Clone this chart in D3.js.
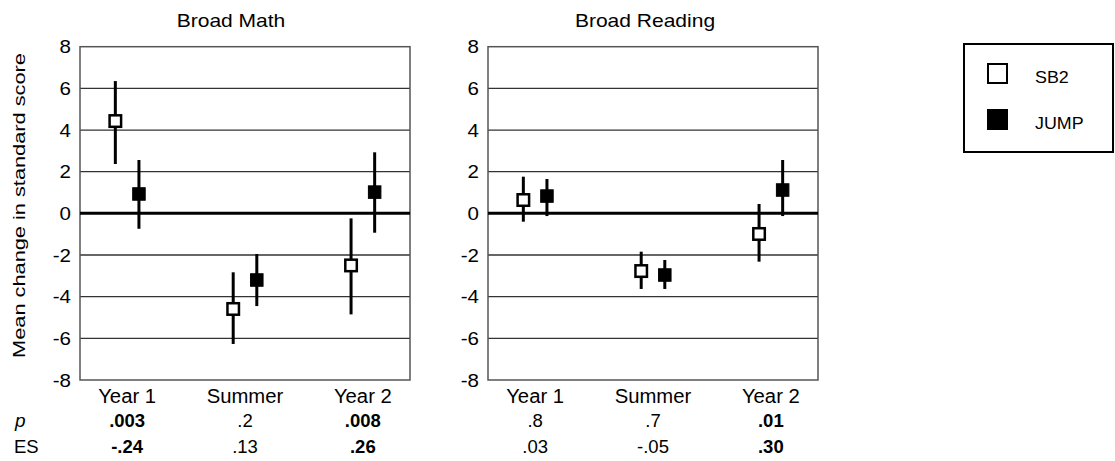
<!DOCTYPE html>
<html>
<head>
<meta charset="utf-8">
<script src="https://cdn.jsdelivr.net/npm/d3@7"></script>
<style>
  body { margin: 0; background: #fff; }
  text { font-family: "Liberation Sans", Arial, sans-serif; fill: #000; }
</style>
</head>
<body>
<svg id="chart" width="1115" height="461"></svg>
<script>
// Mean change in standard score, with error bars (low/high)
const categories = ["Year 1", "Summer", "Year 2"];
const groups = ["SB2", "JUMP"];
const yTicks = [-8, -6, -4, -2, 0, 2, 4, 6, 8];

const mathSB2Mean = [4.43, -4.59, -2.50];
const mathSB2Low  = [2.37, -6.27, -4.85];
const mathSB2High = [6.35, -2.83, -0.24];
const mathJumpMean = [0.93, -3.20, 1.02];
const mathJumpLow  = [-0.74, -4.45, -0.93];
const mathJumpHigh = [2.56, -1.95, 2.93];

const readSB2Mean = [0.64, -2.77, -0.99];
const readSB2Low  = [-0.40, -3.63, -2.32];
const readSB2High = [1.76, -1.84, 0.45];
const readJumpMean = [0.83, -2.96, 1.12];
const readJumpLow  = [-0.13, -3.63, -0.13];
const readJumpHigh = [1.65, -2.24, 2.56];

const mathP = [".003", ".2", ".008"];
const mathPBold = [true, false, true];
const mathES = ["-.24", ".13", ".26"];
const mathESBold = [true, false, true];
const readP = [".8", ".7", ".01"];
const readPBold = [false, false, true];
const readES = [".03", "-.05", ".30"];
const readESBold = [false, false, true];

const svg = d3.select("#chart");

// stretch text horizontally a bit, the original type is wide
function stretch(sel, k) {
  sel.each(function() {
    const len = this.getComputedTextLength();
    d3.select(this).attr("textLength", len * k).attr("lengthAdjust", "spacingAndGlyphs");
  });
}

const plotTop = 46.7, plotBottom = 380;
const y = d3.scaleLinear().domain([-8, 8]).range([plotBottom, plotTop]);
const offset = d3.scalePoint().domain(groups).range([-11.8, 11.8]);

function buildSeries(means, lows, highs) {
  return categories.map((c, i) => ({cat: c, mean: means[i], lo: lows[i], hi: highs[i]}));
}

function drawPanel(left, right, title, titleShift, series, pVals, pBold, esVals, esBold) {
  const x = d3.scalePoint().domain(categories).range([left, right]).padding(0.4);
  const g = svg.append("g");

  // gridlines
  g.append("g")
    .selectAll("line")
    .data(yTicks.filter(d => d !== 0 && d !== 8 && d !== -8))
    .join("line")
    .attr("x1", left).attr("x2", right)
    .attr("y1", d => y(d)).attr("y2", d => y(d))
    .attr("stroke", "#333").attr("stroke-width", 1.3);

  // frame
  g.append("rect")
    .attr("x", left).attr("y", plotTop)
    .attr("width", right - left).attr("height", plotBottom - plotTop)
    .attr("fill", "none").attr("stroke", "#555").attr("stroke-width", 1.5);

  // zero line
  g.append("line")
    .attr("x1", left).attr("x2", right)
    .attr("y1", y(0)).attr("y2", y(0))
    .attr("stroke", "#000").attr("stroke-width", 3);

  // y axis labels (plain hyphen for negatives)
  const yAxis = g.append("g")
    .attr("transform", `translate(${left},0)`)
    .call(d3.axisLeft(y).tickValues(yTicks).tickSize(0).tickPadding(9).tickFormat(d => String(d)));
  yAxis.select(".domain").remove();
  yAxis.selectAll("text")
    .attr("font-size", 19).attr("font-family", "Liberation Sans, Arial, sans-serif")
    .attr("fill", "#000");
  stretch(yAxis.selectAll("text"), 1.08);

  // title
  const t = g.append("text")
    .attr("x", (left + right) / 2 + titleShift).attr("y", 27)
    .attr("text-anchor", "middle").attr("font-size", 18.6)
    .text(title);
  stretch(t, 1.13);

  // error bars and markers
  series.forEach(s => {
    const dx = offset(s.group);
    const open = s.group === "SB2";
    const gg = g.append("g");
    gg.selectAll("line")
      .data(s.data)
      .join("line")
      .attr("x1", d => x(d.cat) + dx).attr("x2", d => x(d.cat) + dx)
      .attr("y1", d => y(d.lo)).attr("y2", d => y(d.hi))
      .attr("stroke", "#000").attr("stroke-width", 3);
    const size = open ? 11.5 : 12.5;
    gg.selectAll("rect")
      .data(s.data)
      .join("rect")
      .attr("x", d => x(d.cat) + dx - size / 2)
      .attr("y", d => y(d.mean) - size / 2)
      .attr("width", size).attr("height", size)
      .attr("fill", open ? "#fff" : "#000")
      .attr("stroke", "#000").attr("stroke-width", open ? 2.5 : 1);
  });

  // category labels
  const cl = g.append("g").selectAll("text")
    .data(categories)
    .join("text")
    .attr("x", d => x(d)).attr("y", 403)
    .attr("text-anchor", "middle").attr("font-size", 19.5)
    .text(d => d);
  stretch(cl, 1.04);

  // p values and effect sizes
  g.append("g").selectAll("text")
    .data(categories)
    .join("text")
    .attr("x", d => x(d)).attr("y", 427)
    .attr("text-anchor", "middle").attr("font-size", 18.5)
    .attr("font-weight", (d, i) => pBold[i] ? "bold" : "normal")
    .text((d, i) => pVals[i]);
  g.append("g").selectAll("text")
    .data(categories)
    .join("text")
    .attr("x", d => x(d)).attr("y", 453)
    .attr("text-anchor", "middle").attr("font-size", 18.5)
    .attr("font-weight", (d, i) => esBold[i] ? "bold" : "normal")
    .text((d, i) => esVals[i]);
}

drawPanel(80, 410, "Broad Math", -14, [
  {group: "SB2", data: buildSeries(mathSB2Mean, mathSB2Low, mathSB2High)},
  {group: "JUMP", data: buildSeries(mathJumpMean, mathJumpLow, mathJumpHigh)}
], mathP, mathPBold, mathES, mathESBold);

drawPanel(488, 818, "Broad Reading", -8, [
  {group: "SB2", data: buildSeries(readSB2Mean, readSB2Low, readSB2High)},
  {group: "JUMP", data: buildSeries(readJumpMean, readJumpLow, readJumpHigh)}
], readP, readPBold, readES, readESBold);

// y axis title
const yl = svg.append("text")
  .attr("transform", `translate(25,${(53 + 358) / 2}) rotate(-90)`)
  .attr("text-anchor", "middle").attr("font-size", 17)
  .text("Mean change in standard score");
stretch(yl, 1.28);

// row labels
svg.append("text").attr("x", 15).attr("y", 427)
  .attr("font-size", 19).attr("font-style", "italic").text("p");
svg.append("text").attr("x", 14).attr("y", 453)
  .attr("font-size", 18.5).text("ES");

// legend
const legend = svg.append("g");
legend.append("rect")
  .attr("x", 964).attr("y", 44).attr("width", 149).attr("height", 108)
  .attr("fill", "#fff").attr("stroke", "#000").attr("stroke-width", 2);
const li = legend.selectAll("g.item")
  .data(groups)
  .join("g")
  .attr("class", "item")
  .attr("transform", (d, i) => `translate(0,${i * 46})`);
li.append("rect")
  .attr("x", d => d === "SB2" ? 988 : 987)
  .attr("y", d => d === "SB2" ? 64 : 63)
  .attr("width", d => d === "SB2" ? 19 : 21)
  .attr("height", d => d === "SB2" ? 19 : 21)
  .attr("fill", d => d === "SB2" ? "#fff" : "#000")
  .attr("stroke", "#000").attr("stroke-width", d => d === "SB2" ? 2 : 0);
const lt = li.append("text")
  .attr("x", 1035).attr("y", 83)
  .attr("font-size", 17)
  .text(d => d);
stretch(lt, 1.05);
</script>
</body>
</html>
